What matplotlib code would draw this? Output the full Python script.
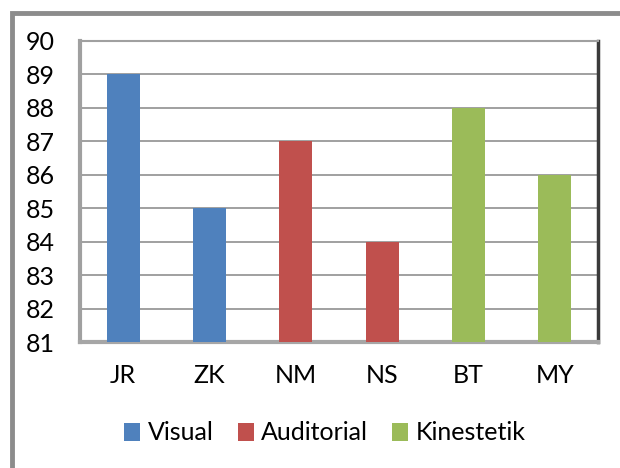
import matplotlib.pyplot as plt
from matplotlib.patches import Rectangle, Patch

plt.rcParams['font.family'] = ['Lato', 'DejaVu Sans']

# data
names = ["JR", "ZK", "NM", "NS", "BT", "MY"]
scores = [89, 85, 87, 84, 88, 86]
groups = ["Visual", "Visual", "Auditorial", "Auditorial", "Kinestetik", "Kinestetik"]
group_names = ["Visual", "Auditorial", "Kinestetik"]
y_ticks = [81, 82, 83, 84, 85, 86, 87, 88, 89, 90]

colors = {"Visual": "#4F81BD", "Auditorial": "#C0504D", "Kinestetik": "#9BBB59"}

W, H = 620, 468
fig = plt.figure(figsize=(W / 100, H / 100), dpi=100)

# outer chart frame (cropped on right / bottom)
fig.patches.append(Rectangle((11.5 / W, -0.1), 1.2, 1 - 12.5 / H + 0.1,
                             transform=fig.transFigure, fill=False,
                             edgecolor="#8c8c8c", linewidth=3.5))

ax = fig.add_axes([80 / W, 1 - 342 / H, 518 / W, 301 / H])

x = range(len(names))
ax.bar(x, scores, width=0.38, color=[colors[g] for g in groups], zorder=3)

ax.set_xlim(-0.5, len(names) - 0.5)
ax.set_ylim(y_ticks[0], y_ticks[-1])
ax.set_yticks(y_ticks)
ax.set_xticks(list(x))
ax.set_xticklabels(names)
ax.tick_params(axis="both", length=0, labelsize=18, colors="black")
ax.tick_params(axis="y", pad=18)
ax.tick_params(axis="x", pad=16)
ax.grid(axis="y", color="#999999", linewidth=1.3, zorder=1)

for s in ["top", "left"]:
    ax.spines[s].set_color("#a0a0a0")
    ax.spines[s].set_linewidth(1.5)
ax.spines["left"].set_linewidth(3)
ax.spines["right"].set_color("#3a3a3a")
ax.spines["right"].set_linewidth(2.5)
ax.spines["bottom"].set_color("#a6a6a6")
ax.spines["bottom"].set_linewidth(3)

handles = [Patch(facecolor=colors[g], edgecolor="none", label=g) for g in group_names]
fig.legend(handles=handles, loc="center", bbox_to_anchor=(325 / W, 1 - 433 / H),
           ncol=3, frameon=False, fontsize=18, handlelength=0.65, handleheight=0.75,
           handletextpad=0.3, columnspacing=0.95)

fig.savefig("out.png", dpi=100)
